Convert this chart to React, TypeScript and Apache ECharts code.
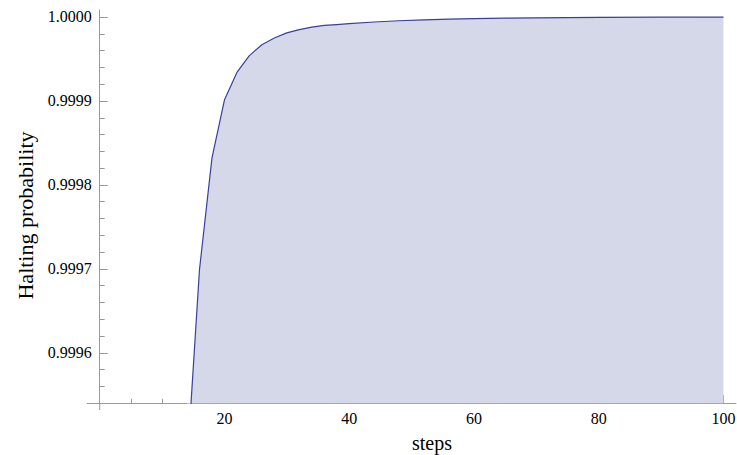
import React, { useEffect, useRef } from "react";
import * as echarts from "echarts";

const steps = [14, 16, 18, 20, 22, 24, 26, 28, 30, 32, 34, 36, 38, 40, 44, 48, 52, 56, 60, 65, 70, 80, 90, 100];
const haltingProbability = [
  0.999465, 0.999699, 0.999832, 0.999901, 0.999934, 0.999954, 0.999967, 0.999975,
  0.999981, 0.999985, 0.999988, 0.99999, 0.999991, 0.999992, 0.999994, 0.9999955,
  0.9999966, 0.9999975, 0.999998, 0.9999986, 0.999999, 0.9999995, 0.9999998, 0.9999999,
];
const xMajorTicks = [20, 40, 60, 80, 100];
const xMinorTicks = [5, 10, 15, 25, 30, 35, 45, 50, 55, 65, 70, 75, 85, 90, 95];
const yMajorTicks = [0.9996, 0.9997, 0.9998, 0.9999, 1.0];
const yMinorTicks = [
  0.99956, 0.99958, 0.99962, 0.99964, 0.99966, 0.99968, 0.99972, 0.99974, 0.99976, 0.99978,
  0.99982, 0.99984, 0.99986, 0.99988, 0.99992, 0.99994, 0.99996, 0.99998,
];

const X_MIN = -2;
const X_MAX = 102;
const Y_MIN = 0.99954;
const Y_MAX = 1.0000083;

const FONT = "Liberation Serif";
const AXIS_COLOR = "#999999";

export default function App() {
  const ref = useRef<HTMLDivElement>(null);

  useEffect(() => {
    if (!ref.current) return;
    const chart = echarts.init(ref.current, undefined, { renderer: "svg" });
    const gridLeft = 87.2;
    const gridRight = 1.1;
    const gridTop = 10;
    const gridBottom = 455 - 403.3;
    const pxPerX = (737 - gridLeft - gridRight) / (X_MAX - X_MIN);
    const yOffset = -(0 - X_MIN) * pxPerX;
    const yAxisPx = gridLeft - yOffset;

    const labelStyle = { color: "#000", fontFamily: FONT, fontSize: 16 };
    const axisLine = { show: true, lineStyle: { color: AXIS_COLOR, width: 1 } };
    chart.setOption({
      animation: false,
      backgroundColor: "#ffffff",
      textStyle: { fontFamily: FONT, color: "#000" },
      grid: {
        left: gridLeft,
        right: gridRight,
        top: gridTop,
        bottom: gridBottom,
        containLabel: false,
        outerBoundsMode: "none",
      },
      xAxis: [
        {
          type: "value",
          min: X_MIN,
          max: X_MAX,
          position: "bottom",
          axisLine: { ...axisLine, onZero: false },
          axisTick: {
            show: true,
            inside: true,
            length: 8,
            customValues: xMajorTicks,
            lineStyle: { color: AXIS_COLOR },
          },
          axisLabel: {
            show: true,
            customValues: xMajorTicks,
            margin: 7,
            ...labelStyle,
            formatter: (v: number) => String(v),
          },
          splitLine: { show: false },
        },
        {
          type: "value",
          min: X_MIN,
          max: X_MAX,
          position: "bottom",
          axisLine: { show: false, onZero: false },
          axisTick: {
            show: true,
            inside: true,
            length: 4.5,
            customValues: xMinorTicks,
            lineStyle: { color: AXIS_COLOR },
          },
          axisLabel: { show: false },
          splitLine: { show: false },
        },
      ],
      yAxis: [
        {
          type: "value",
          min: Y_MIN,
          max: Y_MAX,
          position: "left",
          offset: yOffset,
          axisLine: { ...axisLine, onZero: false },
          axisTick: {
            show: true,
            inside: true,
            length: 8,
            customValues: yMajorTicks,
            lineStyle: { color: AXIS_COLOR },
          },
          axisLabel: {
            show: true,
            customValues: yMajorTicks,
            margin: 8,
            ...labelStyle,
            padding: [4, 0, 0, 0],
            formatter: (v: number) => v.toFixed(4),
          },
          splitLine: { show: false },
        },
        {
          type: "value",
          min: Y_MIN,
          max: Y_MAX,
          position: "left",
          offset: yOffset,
          axisLine: { show: false, onZero: false },
          axisTick: {
            show: true,
            inside: true,
            length: 5,
            customValues: yMinorTicks,
            lineStyle: { color: AXIS_COLOR },
          },
          axisLabel: { show: false },
          splitLine: { show: false },
        },
      ],
      series: [
        {
          type: "line",
          xAxisIndex: 0,
          yAxisIndex: 0,
          data: steps.map((s, i) => [s, haltingProbability[i]]),
          symbol: "none",
          showSymbol: false,
          lineStyle: { color: "#3b3f99", width: 1.2 },
          areaStyle: { color: "#d5d8e8", opacity: 1, origin: "start" },
          silent: true,
          clip: true,
        },
      ],
      graphic: [
        {
          type: "line",
          shape: { x1: yAxisPx, y1: 455 - gridBottom, x2: yAxisPx, y2: 410 },
          style: { stroke: AXIS_COLOR, lineWidth: 1 },
        },
        {
          type: "text",
          x: 25,
          y: 215.5,
          rotation: Math.PI / 2,
          style: {
            text: "Halting probability",
            fontFamily: FONT,
            fontSize: 22,
            fill: "#000",
            align: "center",
            verticalAlign: "middle",
          },
        },
        {
          type: "text",
          x: 432,
          y: 443,
          style: {
            text: "steps",
            fontFamily: FONT,
            fontSize: 20,
            fill: "#000",
            align: "center",
            verticalAlign: "middle",
          },
        },
      ],
    });
    return () => chart.dispose();
  }, []);

  return (
    <div
      ref={ref}
      style={{ position: "absolute", left: 0, top: 0, width: 737, height: 455, background: "#fff" }}
    />
  );
}
